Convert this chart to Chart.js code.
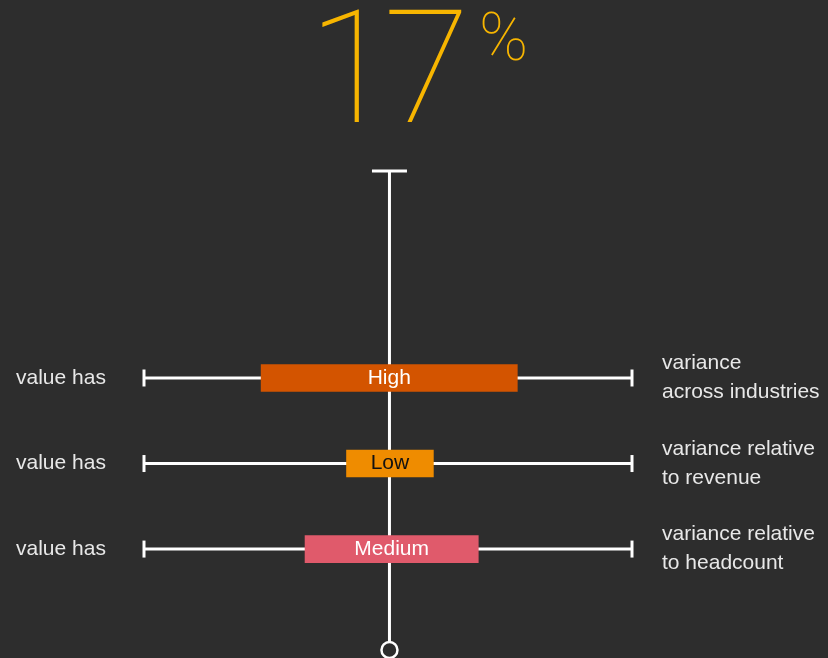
<!DOCTYPE html>
<html>
<head>
<meta charset="utf-8">
<script src="https://cdn.jsdelivr.net/npm/chart.js@4"></script>
<style>
    body { margin: 0; background: #2d2d2d; }
    #wrap { position: relative; width: 828px; height: 658px; }
    #headline { position: absolute; left: 308px; top: -25px; color: #f7b500; font-family: Roboto, "Liberation Sans", sans-serif; font-weight: 100; white-space: nowrap; }
    #headline .num { font-size: 158px; letter-spacing: -11px; }
    #headline .pct { font-size: 66px; vertical-align: 62px; margin-left: 20px; }
</style>
</head>
<body>
<div id="wrap">
    <canvas id="myChart" width="828" height="658"></canvas>
    <div id="headline"><span class="num">17</span><span class="pct">%</span></div>
</div>
<script>
// rows, top to bottom
const rows = [1, 2, 3]
const levels = ['High', 'Low', 'Medium']
const ranges = [[24, 76.5], [41.5, 59.3], [33, 68.5]]
const levelColors = ['#d35400', '#ef8c00', '#e05a6b']
const levelTextColors = ['#ffffff', '#111111', '#ffffff']
const leftLabels = ['value has', 'value has', 'value has']
const rightLabels = [
    ['variance', 'across industries'],
    ['variance relative', 'to revenue'],
    ['variance relative', 'to headcount'],
]
// whisker span and center axis
const whiskerMin = 0
const whiskerMax = 100
const axisCenter = 50.3
const axisTop = -1.42
const axisBottom = 4.18

const bg = '#2d2d2d'
const ink = '#ffffff'
const labelColor = '#e8e8e8'

let datasets = []

datasets.push({
    type: 'bar',
    indexAxis: 'y',
    data: rows.map((r, i) => ({ y: r, x: ranges[i] })),
    backgroundColor: levelColors,
    borderWidth: 0,
    barThickness: 27,
    order: 0,
})

rows.map((r) => {
    datasets.push({
        type: 'line',
        data: [{ x: whiskerMin, y: r }, { x: whiskerMax, y: r }],
        borderColor: ink,
        borderWidth: 3,
        pointStyle: 'line',
        pointRotation: 90,
        pointRadius: 8.5,
        pointBorderColor: ink,
        pointBorderWidth: 3,
        clip: false,
        order: 2,
    })
})

datasets.push({
    type: 'line',
    data: [{ x: axisCenter, y: axisTop }, { x: axisCenter, y: axisBottom }],
    borderColor: ink,
    borderWidth: 3,
    pointStyle: ['line', 'circle'],
    pointRadius: [17.5, 8],
    pointBackgroundColor: bg,
    pointBorderColor: ink,
    pointBorderWidth: [3, 2.5],
    clip: false,
    order: 1,
})

const barLabels = {
    id: 'barLabels',
    afterDatasetsDraw(chart) {
        const ctx = chart.ctx
        const meta = chart.getDatasetMeta(0)
        ctx.save()
        ctx.font = '21px "Liberation Sans", Arial, sans-serif'
        ctx.textAlign = 'center'
        ctx.textBaseline = 'middle'
        meta.data.map((bar, i) => {
            ctx.fillStyle = levelTextColors[i]
            ctx.fillText(levels[i], (bar.x + bar.base) / 2, bar.y)
        })
        ctx.restore()
    }
}

const tickFont = { family: '"Liberation Sans", Arial, sans-serif', size: 21, lineHeight: 1.38 }

// keep the side axes from pushing the plot area around
function fixAxis(scale, width) {
    scale.width = width
    scale.paddingTop = 0
    scale.paddingBottom = 0
    scale.paddingLeft = 0
    scale.paddingRight = 0
}

const config = {
    type: 'bar',
    data: { datasets: datasets },
    options: {
        responsive: false,
        animation: false,
        events: [],
        layout: { autoPadding: false, padding: { left: 16, right: 0, top: 171, bottom: 8 } },
        plugins: {
            legend: { display: false },
            tooltip: { enabled: false },
        },
        scales: {
            x: {
                type: 'linear',
                offset: false,
                min: whiskerMin,
                max: whiskerMax,
                display: false,
            },
            y: {
                type: 'linear',
                offset: false,
                position: 'left',
                reverse: true,
                min: axisTop,
                max: axisBottom,
                grid: { display: false, drawTicks: false },
                border: { display: false },
                afterBuildTicks: (scale) => { scale.ticks = rows.map((r) => ({ value: r })) },
                afterFit: (scale) => fixAxis(scale, 128),
                ticks: {
                    crossAlign: 'far',
                    color: labelColor,
                    font: tickFont,
                    callback: (value) => leftLabels[rows.indexOf(value)],
                },
            },
            y2: {
                type: 'linear',
                offset: false,
                position: 'right',
                reverse: true,
                min: axisTop,
                max: axisBottom,
                grid: { display: false, drawTicks: false },
                border: { display: false },
                afterBuildTicks: (scale) => { scale.ticks = rows.map((r) => ({ value: r })) },
                afterFit: (scale) => fixAxis(scale, 196),
                ticks: {
                    padding: 30,
                    color: labelColor,
                    font: tickFont,
                    callback: (value) => rightLabels[rows.indexOf(value)],
                },
            },
        },
    },
    plugins: [barLabels],
}

const ctx = document.getElementById('myChart').getContext('2d')
const myChart = new Chart(ctx, config)
</script>
</body>
</html>
